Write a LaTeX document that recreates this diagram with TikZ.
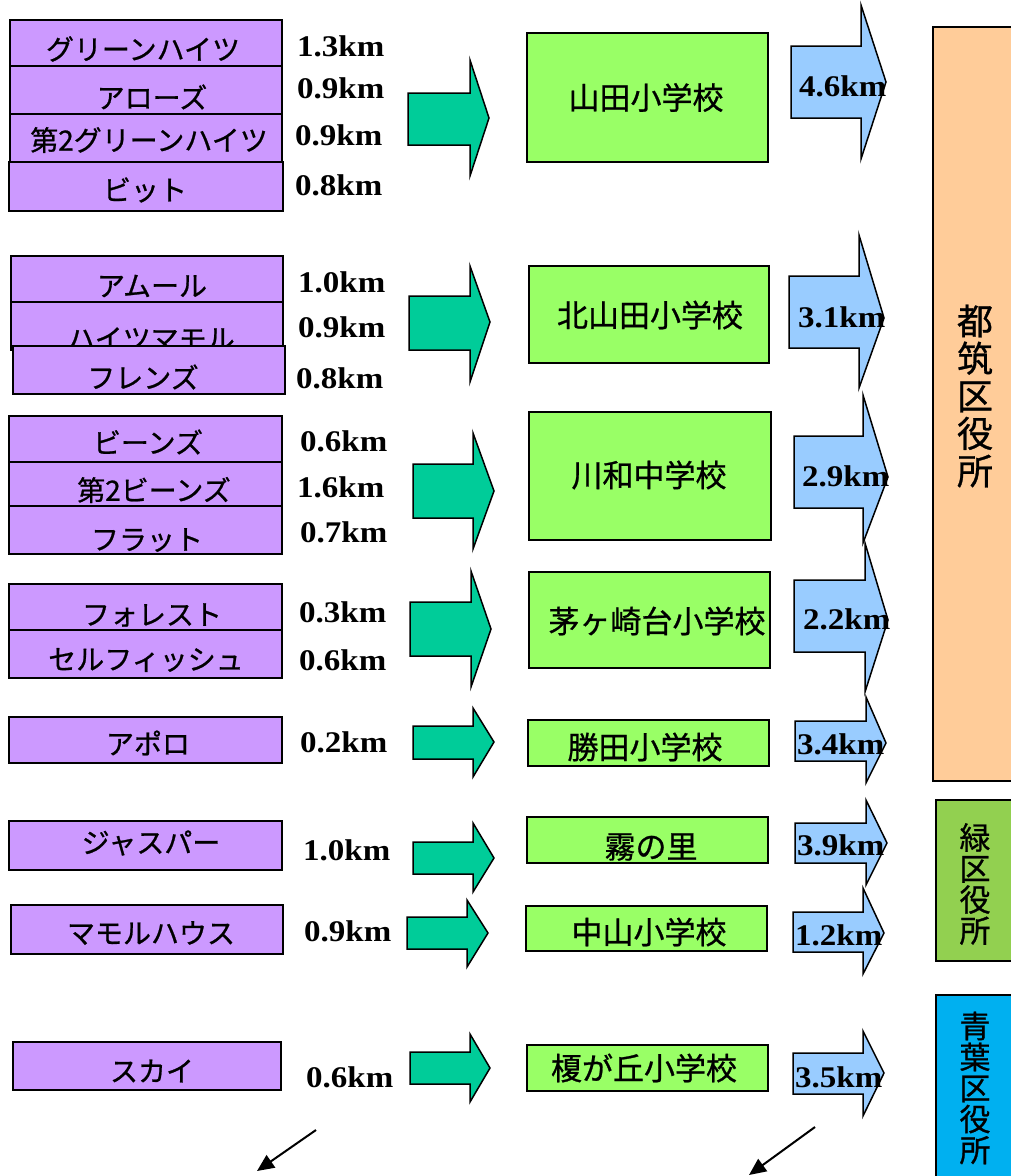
\documentclass[tikz,border=0pt]{standalone}
\usepackage{fontspec}
\setmainfont{Liberation Serif}
\newfontfamily\jp[FakeBold=0.8]{Noto Sans CJK JP}
\newfontfamily\kmfont[FakeStretch=1.1]{Liberation Serif}
\usetikzlibrary{arrows.meta}
\definecolor{purp}{HTML}{CC99FF}
\definecolor{schoolg}{HTML}{99FF66}
\definecolor{arrg}{HTML}{00CC99}
\definecolor{arrb}{HTML}{99CCFF}
\definecolor{orng}{HTML}{FFCC99}
\definecolor{midg}{HTML}{92D050}
\definecolor{sky}{HTML}{00B0F0}
\begin{document}
\begin{tikzpicture}[x=1pt,y=-1pt,
  pbox/.style={draw=black,line width=1.5pt,fill=purp,inner sep=0pt},
  sbox/.style={draw=black,line width=1.5pt,fill=schoolg,inner sep=0pt},
  obox/.style={draw=black,line width=1.5pt,inner sep=0pt},
  jtext/.style={inner sep=0pt,font=\jp\fontsize{28}{28}\selectfont},
  stext/.style={inner sep=0pt,font=\jp\fontsize{31}{31}\selectfont},
  km/.style={inner sep=0pt,anchor=west,font=\kmfont\bfseries\fontsize{30}{30}\selectfont},
  garrow/.style={draw=black,line width=1.5pt,fill=arrg,line join=miter},
  barrow/.style={draw=black,line width=1.5pt,fill=arrb,line join=miter},
  blk/.style={draw=black,line width=2pt,-{Triangle[length=17pt,width=15pt]}}
]
\useasboundingbox (0,0) rectangle (1011,1176);
\fill[white] (0,0) rectangle (1011,1176);

% ---------- left purple boxes ----------
\node[pbox,minimum width=272,minimum height=46] (pa1) at (146,43) {};
\node[jtext] (ta1) at (143,49) {グリーンハイツ};
\node[pbox,minimum width=272,minimum height=48] (pa2) at (146,90) {};
\node[jtext] (ta2) at (152,97) {アローズ};
\node[pbox,minimum width=272,minimum height=48] (pa3) at (146,138) {};
\node[jtext] (ta3) at (149,140) {第2グリーンハイツ};
\node[pbox,minimum width=274,minimum height=49] (pa4) at (146,186.5) {};
\node[jtext] (ta4) at (145,190) {ビット};

\node[pbox,minimum width=272,minimum height=46] (pb1) at (147,279) {};
\node[jtext] (tb1) at (152,286) {アムール};
\node[pbox,minimum width=272,minimum height=48] (pb2) at (147,326) {};
\node[jtext] (tb2) at (151,339) {ハイツマモル};
\node[pbox,minimum width=272,minimum height=48] (pb3) at (149,370) {};
\node[jtext] (tb3) at (143,377) {フレンズ};

\node[pbox,minimum width=273,minimum height=46] (pc1) at (145.5,439) {};
\node[jtext] (tc1) at (148,442) {ビーンズ};
\node[pbox,minimum width=273,minimum height=44] (pc2) at (145.5,484) {};
\node[jtext] (tc2) at (154,490) {第2ビーンズ};
\node[pbox,minimum width=273,minimum height=48] (pc3) at (145.5,530) {};
\node[jtext] (tc3) at (147,540) {フラット};

\node[pbox,minimum width=273,minimum height=46] (pd1) at (145.5,607) {};
\node[jtext] (td1) at (152,615) {フォレスト};
\node[pbox,minimum width=273,minimum height=48] (pd2) at (145.5,654) {};
\node[jtext] (td2) at (146,660) {セルフィッシュ};

\node[pbox,minimum width=273,minimum height=46] (pe) at (145.5,740) {};
\node[jtext] (te) at (148,743) {アポロ};
\node[pbox,minimum width=273,minimum height=49] (pf) at (145.5,845.5) {};
\node[jtext] (tf) at (151,843) {ジャスパー};
\node[pbox,minimum width=272,minimum height=49] (pg) at (147,929.5) {};
\node[jtext] (tg) at (151,933) {マモルハウス};
\node[pbox,minimum width=268,minimum height=48] (ph) at (147,1066) {};
\node[jtext] (th) at (152,1071) {スカイ};

% ---------- distances ----------
\node[km] (d1) at (297,46) {1.3km};
\node[km] (d2) at (297,88) {0.9km};
\node[km] (d3) at (295,135) {0.9km};
\node[km] (d4) at (295,185) {0.8km};
\node[km] (d5) at (298,282) {1.0km};
\node[km] (d6) at (298,327) {0.9km};
\node[km] (d7) at (296,378) {0.8km};
\node[km] (d8) at (300,441) {0.6km};
\node[km] (d9) at (297,487) {1.6km};
\node[km] (d10) at (300,532) {0.7km};
\node[km] (d11) at (299,612) {0.3km};
\node[km] (d12) at (299,660) {0.6km};
\node[km] (d13) at (300,742) {0.2km};
\node[km] (d14) at (303,850) {1.0km};
\node[km] (d15) at (304,931) {0.9km};
\node[km] (d16) at (306,1077) {0.6km};

% ---------- green arrows ----------
\draw[garrow] (408,93) -- (470,93) -- (470,60) -- (489,118) -- (470,176) -- (470,145) -- (408,145) -- cycle;
\draw[garrow] (409,296) -- (470,296) -- (470,266) -- (490,322) -- (470,382) -- (470,350) -- (409,350) -- cycle;
\draw[garrow] (413,464) -- (473,464) -- (473,433) -- (494,491) -- (473,549) -- (473,518) -- (413,518) -- cycle;
\draw[garrow] (410,602) -- (471,602) -- (471,571) -- (491,629) -- (471,687) -- (471,656) -- (410,656) -- cycle;
\draw[garrow] (413,726) -- (473,726) -- (473,708) -- (494,742) -- (473,777) -- (473,759) -- (413,759) -- cycle;
\draw[garrow] (413,842) -- (473,842) -- (473,823) -- (494,858) -- (473,892) -- (473,874) -- (413,874) -- cycle;
\draw[garrow] (407,917) -- (467,917) -- (467,900) -- (488,933) -- (467,967) -- (467,949) -- (407,949) -- cycle;
\draw[garrow] (410,1052) -- (470,1052) -- (470,1034) -- (490,1068) -- (470,1102) -- (470,1084) -- (410,1084) -- cycle;

% ---------- schools ----------
\node[sbox,minimum width=241,minimum height=129] (s1) at (647.5,97.5) {};
\node[stext] (ts1) at (646,97.5) {山田小学校};
\node[sbox,minimum width=240,minimum height=97] (s2) at (649,314.5) {};
\node[stext] (ts2) at (650,315) {北山田小学校};
\node[sbox,minimum width=242,minimum height=128] (s3) at (650,476) {};
\node[stext] (ts3) at (649,475) {川和中学校};
\node[sbox,minimum width=241,minimum height=96] (s4) at (649.5,620) {};
\node[stext] (ts4) at (657,621) {茅ヶ崎台小学校};
\node[sbox,minimum width=241,minimum height=46] (s5) at (648.5,743) {};
\node[stext] (ts5) at (645,747) {勝田小学校};
\node[sbox,minimum width=241,minimum height=46] (s6) at (647.5,840) {};
\node[stext] (ts6) at (651,847) {霧の里};
\node[sbox,minimum width=241,minimum height=45] (s7) at (646.5,928.5) {};
\node[stext] (ts7) at (649,932) {中山小学校};
\node[sbox,minimum width=241,minimum height=46] (s8) at (647.5,1068) {};
\node[stext] (ts8) at (644,1068) {榎が丘小学校};

% ---------- blue arrows ----------
\draw[barrow] (791,46) -- (861,46) -- (861,5) -- (886,82) -- (861,159) -- (861,118) -- (791,118) -- cycle;
\draw[barrow] (789,276) -- (859,276) -- (859,235) -- (884,318) -- (859,388) -- (859,348) -- (789,348) -- cycle;
\draw[barrow] (794,436) -- (863,436) -- (863,395) -- (888,477) -- (863,543) -- (863,508) -- (794,508) -- cycle;
\draw[barrow] (794,580) -- (865,580) -- (865,543) -- (888,620) -- (865,692) -- (865,652) -- (794,652) -- cycle;
\draw[barrow] (795,721) -- (866,721) -- (866,697) -- (886,743) -- (866,783) -- (866,761) -- (795,761) -- cycle;
\draw[barrow] (795,823) -- (866,823) -- (866,800) -- (887,843) -- (866,885) -- (866,863) -- (795,863) -- cycle;
\draw[barrow] (793,912) -- (863,912) -- (863,888) -- (884,933) -- (863,974) -- (863,952) -- (793,952) -- cycle;
\draw[barrow] (793,1053) -- (863,1053) -- (863,1031) -- (884,1073) -- (863,1116) -- (863,1094) -- (793,1094) -- cycle;

\node[km] (e1) at (799,86) {4.6km};
\node[km] (e2) at (798,317) {3.1km};
\node[km] (e3) at (802,476) {2.9km};
\node[km] (e4) at (803,619) {2.2km};
\node[km] (e5) at (797,744) {3.4km};
\node[km] (e6) at (797,845) {3.9km};
\node[km] (e7) at (795,935) {1.2km};
\node[km] (e8) at (795,1077) {3.5km};

% ---------- ward offices ----------
\node[obox,fill=orng,minimum width=87,minimum height=754] (w1) at (976.5,404) {};
\node[inner sep=0pt,align=center,font=\jp\fontsize{36}{37.5}\selectfont] (tw1) at (975,396) {都\\筑\\区\\役\\所};
\node[obox,fill=midg,minimum width=84,minimum height=161] (w2) at (978,880.5) {};
\node[inner sep=0pt,align=center,font=\jp\fontsize{31}{31}\selectfont] (tw2) at (975,884) {緑\\区\\役\\所};
\node[obox,fill=sky,minimum width=84,minimum height=195] (w3) at (978,1092.5) {};
\node[inner sep=0pt,align=center,font=\jp\fontsize{31}{31}\selectfont] (tw3) at (975,1088) {青\\葉\\区\\役\\所};

% ---------- pointer arrows ----------
\coordinate (b1s) at (316,1130);
\coordinate (b1e) at (257,1171);
\draw[blk] (b1s) -- (b1e);
\coordinate (b2s) at (815,1127);
\coordinate (b2e) at (749,1175);
\draw[blk] (b2s) -- (b2e);
\end{tikzpicture}
\end{document}
